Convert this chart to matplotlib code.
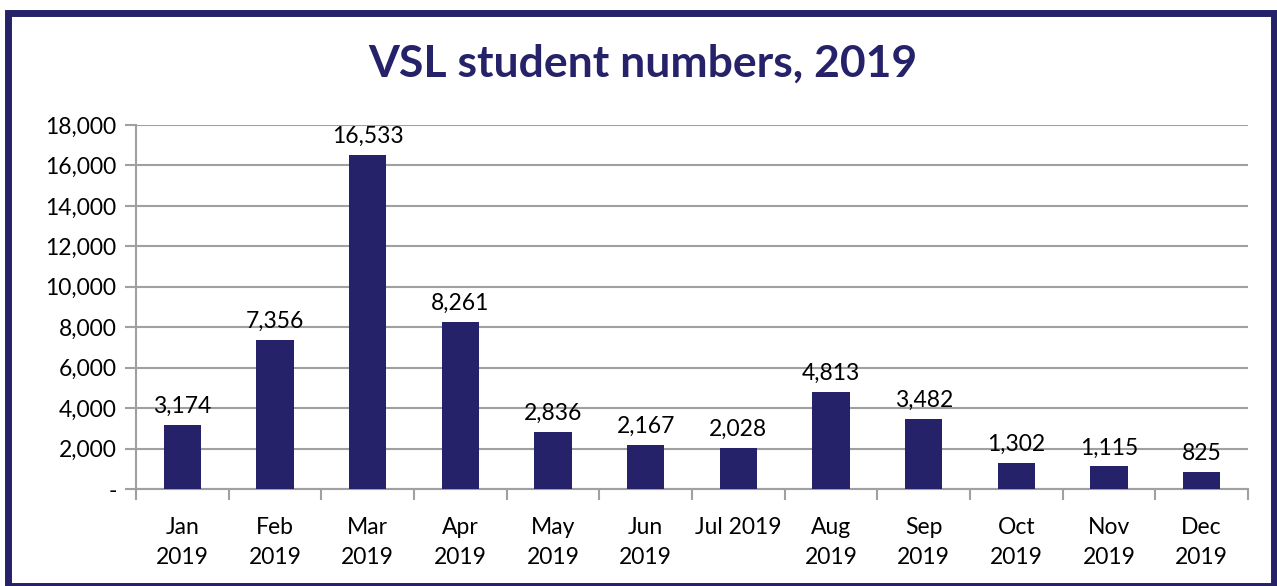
import matplotlib.pyplot as plt
from matplotlib.patches import Rectangle
from matplotlib.ticker import FuncFormatter

# data
months = ["Jan\n2019", "Feb\n2019", "Mar\n2019", "Apr\n2019", "May\n2019", "Jun\n2019",
          "Jul 2019", "Aug\n2019", "Sep\n2019", "Oct\n2019", "Nov\n2019", "Dec\n2019"]
students = [3174, 7356, 16533, 8261, 2836, 2167, 2028, 4813, 3482, 1302, 1115, 825]

navy = "#252269"
grid_col = "#A0A0A0"
plt.rcParams['font.family'] = ['Lato', 'DejaVu Sans']

fig = plt.figure(figsize=(12.77, 5.86), dpi=100)
ax = fig.add_axes([136 / 1277, 1 - 489 / 586, (1248 - 136) / 1277, (489 - 125) / 586])

x = range(len(months))
ax.bar(x, students, width=0.4, color=navy, zorder=3)
for i, v in enumerate(students):
    ax.text(i, v + 400, f"{v:,}", ha="center", va="bottom", fontsize=16.5, color="black", zorder=4)

ax.set_xlim(-0.5, len(months) - 0.5)
ax.set_ylim(0, 18000)
ax.set_yticks(range(0, 18001, 2000))
ax.yaxis.set_major_formatter(FuncFormatter(lambda v, p: "-" if v == 0 else f"{int(v):,}"))
ax.grid(axis="y", color=grid_col, linewidth=1.5, zorder=0)
ax.tick_params(axis="y", length=8, color=grid_col, width=1.5, labelsize=16.5, pad=6)

ax.set_xticks([i - 0.5 for i in range(len(months) + 1)])
ax.set_xticklabels([])
ax.set_xticks(list(x), minor=True)
ax.set_xticklabels(months, minor=True, fontsize=16.5, linespacing=1.55)
ax.tick_params(axis="x", which="major", length=8, color=grid_col, width=1.5)
ax.tick_params(axis="x", which="minor", length=0, pad=20)

for s in ["top", "right"]:
    ax.spines[s].set_visible(False)
for s in ["left", "bottom"]:
    ax.spines[s].set_color(grid_col)
    ax.spines[s].set_linewidth(1.5)

fig.text(643 / 1277, 1 - 64 / 586, "VSL student numbers, 2019", ha="center", va="center",
         fontsize=32, fontweight="bold", color=navy)

# outer border
fig.patches.append(Rectangle((8 / 1277, 0.0), (1274 - 8) / 1277, 1 - 13 / 586,
                             transform=fig.transFigure, fill=False, edgecolor=navy,
                             linewidth=5, clip_on=False))

fig.savefig("out.png", dpi=100)
